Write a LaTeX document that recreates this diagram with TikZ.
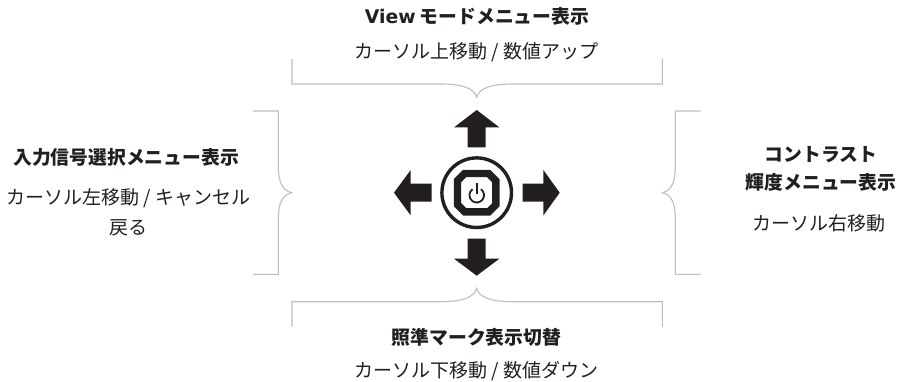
\documentclass[tikz,border=0pt]{standalone}
\usepackage{fontspec}
\setmainfont{Noto Sans CJK JP}
\newfontfamily\latinbold{DejaVu Sans}
\definecolor{ink}{HTML}{231F20}
\definecolor{bracecol}{HTML}{BDBDBD}
\tikzset{
  px/.style={x=1pt,y=-1pt},
  headtext/.style={font=\fontsize{18.8}{28}\selectfont\bfseries,text=ink,align=center,inner sep=0pt,anchor=center},
  bodytext/.style={font=\fontsize{19}{30}\selectfont,text=ink,align=center,inner sep=0pt,anchor=center},
  bracket/.style={draw=bracecol,line width=1.1pt,line join=miter},
  bigarrow/.style={fill=ink,draw=none},
}
\begin{document}
\begin{tikzpicture}[px]
\useasboundingbox (0,0) rectangle (902,382);
% braces
\draw[bracket] (292,59) -- (292,84) -- (440,84) .. controls (462,84) and (474,88) .. (476.7,97.3) .. controls (479.4,88) and (491,84) .. (513,84) -- (662.3,84) -- (662.3,59);
\draw[bracket] (292,326.7) -- (292,301.7) -- (440,301.7) .. controls (462,301.7) and (474,297.7) .. (476.7,288.3) .. controls (479.4,297.7) and (491,301.7) .. (513,301.7) -- (662.3,301.7) -- (662.3,326.7);
\draw[bracket] (253,111) -- (278.3,111) -- (278.3,165) .. controls (278.3,182) and (282,190) .. (291.7,192.7) .. controls (282,195.4) and (278.3,203) .. (278.3,220) -- (278.3,274.3) -- (253,274.3);
\draw[bracket] (700.7,111) -- (675.3,111) -- (675.3,165) .. controls (675.3,182) and (672,190) .. (662.7,192.7) .. controls (672,195.4) and (675.3,203) .. (675.3,220) -- (675.3,274.3) -- (700.7,274.3);
% central button
\begin{scope}[shift={(476.7,192.7)}]
\fill[bigarrow] (0,-82.7) -- (22.7,-65.3) -- (9,-65.3) -- (9,-45.3) -- (-9,-45.3) -- (-9,-65.3) -- (-22.7,-65.3) -- cycle;
\fill[bigarrow] (0,83) -- (22.7,66) -- (9,66) -- (9,46) -- (-9,46) -- (-9,66) -- (-22.7,66) -- cycle;
\fill[bigarrow] (-82.7,0) -- (-66,22.7) -- (-66,9) -- (-45,9) -- (-45,-9) -- (-66,-9) -- (-66,-22.7) -- cycle;
\fill[bigarrow] (83,0) -- (66.7,22.7) -- (66.7,9) -- (46,9) -- (46,-9) -- (66.7,-9) -- (66.7,-22.7) -- cycle;
\draw[ink,line width=3.4pt] (0,0) circle[radius=34.8];
\draw[ink,line width=7.4pt,line join=miter] (-12,-19.2) -- (12,-19.2) -- (19.2,-12) -- (19.2,12) -- (12,19.2) -- (-12,19.2) -- (-19.2,12) -- (-19.2,-12) -- cycle;
\begin{scope}[shift={(0,2.5)},y=1pt]
\draw[ink,line width=1.8pt] (55:7.3) arc[start angle=55,end angle=-235,radius=7.3];
\draw[ink,line width=1.8pt] (0,1.5) -- (0,11.8);
\end{scope}
\end{scope}
% text
\node[headtext] (top) at (477,16) {{\latinbold View} モードメニュー表示};
\node[bodytext] (topb) at (476.5,52) {カーソル上移動 / 数値アップ};
\node[headtext] (left) at (126,157) {入力信号選択メニュー表示};
\node[bodytext] (leftb) at (128.5,212) {カーソル左移動 / キャンセル\\戻る};
\node[headtext] (right) at (821,169) {コントラスト\\輝度メニュー表示};
\node[bodytext] (rightb) at (819,223) {カーソル右移動};
\node[headtext] (bot) at (476.5,337) {照準マーク表示切替};
\node[bodytext] (botb) at (476.5,371) {カーソル下移動 / 数値ダウン};
\end{tikzpicture}
\end{document}
